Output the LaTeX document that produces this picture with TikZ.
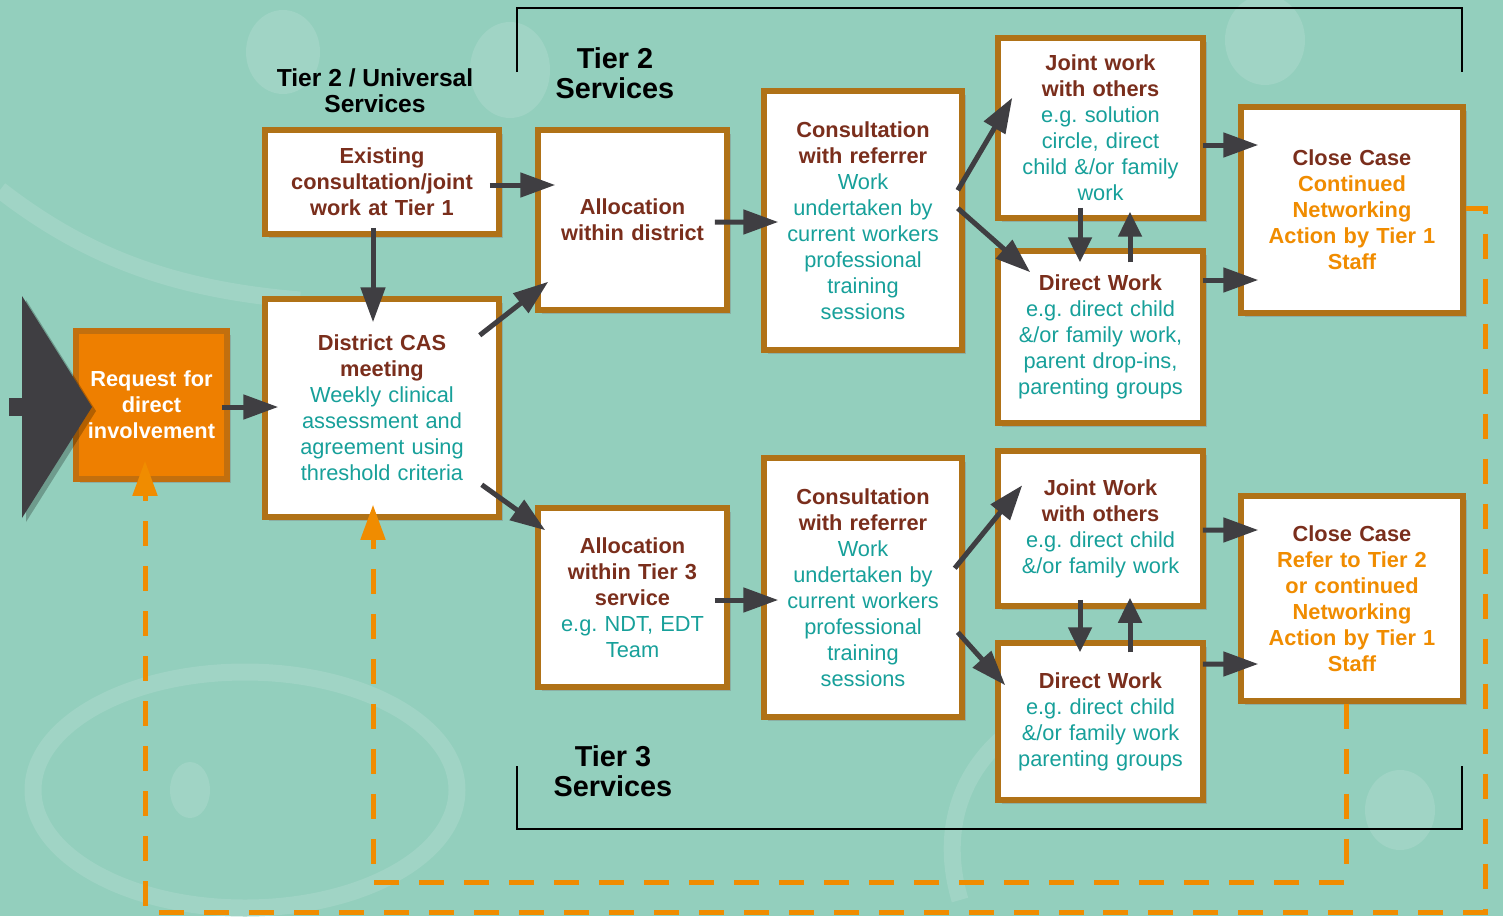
\documentclass[tikz,border=0pt]{standalone}
\usepackage{fontspec}
\setmainfont{Liberation Sans}
\usetikzlibrary{arrows.meta,shadows}

\definecolor{bgteal}{HTML}{93CFBD}
\definecolor{swirl}{HTML}{A0D4C5}
\definecolor{boxrim}{HTML}{B07217}
\definecolor{headbrown}{HTML}{7A2E1C}
\definecolor{bodyteal}{HTML}{17A09A}
\definecolor{actorange}{HTML}{F08C00}
\definecolor{reqfill}{HTML}{EE7F00}
\definecolor{reqrim}{HTML}{C26F0E}
\definecolor{arrowgrey}{HTML}{3F3E42}

\newcommand{\bodytxt}{\mdseries\color{bodyteal}}
\newcommand{\acttxt}{\color{actorange}}
\frenchspacing

\tikzset{
  stepbox/.style 2 args={draw=boxrim, line width=0.11cm, fill=white, inner sep=0pt,
    minimum width=#1*0.02cm, minimum height=#2*0.02cm, text width=3.7cm,
    align=center, text=headbrown,
    font=\bfseries\fontsize{12.4}{14.8}\selectfont,
    drop shadow={shadow xshift=0.07cm, shadow yshift=-0.07cm, opacity=0.4}},
  reqbox/.style={stepbox={151}{148}, text width=2.8cm, fill=reqfill, draw=reqrim, text=white},
  tiertitle/.style={align=center, font=\bfseries\fontsize{14}{14.8}\selectfont},
  bigtitle/.style={align=center, font=\bfseries\fontsize{16.4}{17}\selectfont},
  arr/.style={draw=arrowgrey, line width=0.1cm, -{Triangle[length=0.7cm, width=0.48cm]}},
  shortarr/.style={arr, -{Triangle[length=0.5cm, width=0.46cm]}},
  ordash/.style={draw=actorange, line width=0.1cm, dash pattern=on 0.5cm off 0.4cm,
    -{Triangle[length=0.7cm, width=0.48cm]}},
  swirlband/.style={draw=swirl, line width=0.34cm}
}

\begin{document}
\begin{tikzpicture}[x=0.02cm, y=-0.02cm]
  % Background
  \fill[bgteal] (0,0) rectangle (1503,916);
  \useasboundingbox (0,0) rectangle (1503,916);

  % Swirls
  \fill[swirl] (283,52) ellipse (37 and 42);
  \fill[swirl] (510,70) ellipse (40 and 48);
  \fill[swirl] (1265,40) ellipse (40 and 45);
  \draw[swirlband] (245,790) ellipse (212 and 118);
  \draw[swirlband] (0,190) .. controls (90,260) and (180,290) .. (300,300);
  \draw[swirlband] (960,900) .. controls (930,800) and (990,720) .. (1080,700);
  \fill[swirl] (190,790) ellipse (20 and 28);
  \fill[swirl] (1400,810) ellipse (35 and 40);

  % Tier frames
  \draw[line width=0.03cm] (517,72) -- (517,8) -- (1462,8) -- (1462,72);
  \draw[line width=0.03cm] (517,766) -- (517,829) -- (1462,829) -- (1462,766);

  % Titles
  \node[tiertitle] (t2uni) at (375,91) {Tier 2 / Universal\\Services};
  \node[bigtitle] (t2) at (615,73) {Tier 2\\Services};
  \node[bigtitle] (t3) at (613,771) {Tier 3\\Services};

  % Boxes
  \node[reqbox] (req) at (151.5,405) {Request for\\direct\\involvement};
  \node[stepbox={234}{104}, text width=4.4cm] (exist) at (382,182)
    {Existing\\consultation/joint\\work at Tier 1};
  \node[stepbox={234}{218}, text width=4.4cm] (cas) at (382,408)
    {District CAS\\meeting\\\bodytxt Weekly clinical\\assessment and\\agreement using\\threshold criteria};
  \node[stepbox={189}{180}] (alloc1) at (632.5,220) {Allocation\\within district};
  \node[stepbox={198}{259}] (cons1) at (863,220.5)
    {Consultation\\with referrer\\\bodytxt Work\\undertaken by\\current workers\\professional\\training\\sessions};
  \node[stepbox={205}{180}] (joint1) at (1100.5,128)
    {Joint work\\with others\\\bodytxt e.g. solution\\circle, direct\\child \&/or family\\work};
  \node[stepbox={205}{172}] (direct1) at (1100.5,337)
    {Direct Work\\\bodytxt e.g. direct child\\\&/or family work,\\parent drop-ins,\\parenting groups};
  \node[stepbox={222}{206}] (close1) at (1352,210)
    {Close Case\\\acttxt Continued\\Networking\\Action by Tier 1\\Staff};
  \node[stepbox={189}{179}] (alloc2) at (632.5,597.5)
    {Allocation\\within Tier 3\\service\\\bodytxt e.g. NDT, EDT\\Team};
  \node[stepbox={198}{259}] (cons2) at (863,587.5)
    {Consultation\\with referrer\\\bodytxt Work\\undertaken by\\current workers\\professional\\training\\sessions};
  \node[stepbox={205}{155}] (joint2) at (1100.5,528.5)
    {Joint Work\\with others\\\bodytxt e.g. direct child\\\&/or family work};
  \node[stepbox={205}{157}] (direct2) at (1100.5,721.5)
    {Direct Work\\\bodytxt e.g. direct child\\\&/or family work\\parenting groups};
  \node[stepbox={222}{205}] (close2) at (1352,598.5)
    {Close Case\\\acttxt Refer to Tier 2\\or continued\\Networking\\Action by Tier 1\\Staff};

  % Entry arrow
  \fill[black, opacity=0.25] (26,300) -- (96,411) -- (26,522) -- cycle;
  \fill[arrowgrey] (22,296) -- (92,407) -- (22,518) -- cycle;
  \fill[arrowgrey] (9,398) rectangle (22,416);

  % Return paths
  \draw[ordash] ([shift={(0,-2)}]close1.east) -| (1485,912) -| ([shift={(-6.5,-21)}]req.south);
  \draw[ordash] ([shift={(-6,0)}]close2.south) |- (373,882) -- ([shift={(-9,-15)}]cas.south);

  % Flow arrows
  \draw[arr] ([shift={(-8,2)}]req.east) -- ([shift={(16,-1)}]cas.west);
  \draw[arr] ([shift={(-12,3)}]exist.east) -- ([shift={(20,-35)}]alloc1.west);
  \draw[arr] ([shift={(-9,-9)}]exist.south) -- ([shift={(-9,26)}]cas.north);
  \draw[arr] ([shift={(-22,39)}]cas.north east) -- ([shift={(13,-31)}]alloc1.south west);
  \draw[arr] ([shift={(-20,-35)}]cas.south east) -- ([shift={(10,25)}]alloc2.north west);
  \draw[arr] ([shift={(-15,2)}]alloc1.east) -- ([shift={(17,1.5)}]cons1.west);
  \draw[arr] ([shift={(-15,2.5)}]alloc2.east) -- ([shift={(17,12.5)}]cons2.west);

  % Tier 2 work
  \draw[arr] ([shift={(-7,102)}]cons1.north east) -- ([shift={(17,-123)}]joint1.south west);
  \draw[arr] ([shift={(-7,120)}]cons1.north east) -- ([shift={(35,24)}]direct1.north west);
  \draw[shortarr] ([shift={(-20.5,-13)}]joint1.south) -- ([shift={(-20.5,14)}]direct1.north);
  \draw[shortarr] ([shift={(29.5,14)}]direct1.north) -- ([shift={(29.5,-9)}]joint1.south);
  \draw[arr] ([shift={(-3,17)}]joint1.east) -- ([shift={(20,-65)}]close1.west);
  \draw[arr] ([shift={(-3,-57)}]direct1.east) -- ([shift={(20,70)}]close1.west);

  % Tier 3 work
  \draw[arr] ([shift={(-10,113)}]cons2.north east) -- ([shift={(27,37)}]joint2.north west);
  \draw[arr] ([shift={(-7,177)}]cons2.north east) -- ([shift={(10,45)}]direct2.north west);
  \draw[shortarr] ([shift={(-20.5,-9)}]joint2.south) -- ([shift={(-20.5,12)}]direct2.north);
  \draw[shortarr] ([shift={(29.5,12)}]direct2.north) -- ([shift={(29.5,-11)}]joint2.south);
  \draw[arr] ([shift={(-3,1.5)}]joint2.east) -- ([shift={(20,-68.5)}]close2.west);
  \draw[arr] ([shift={(-3,-57.5)}]direct2.east) -- ([shift={(20,65.5)}]close2.west);
\end{tikzpicture}
\end{document}
